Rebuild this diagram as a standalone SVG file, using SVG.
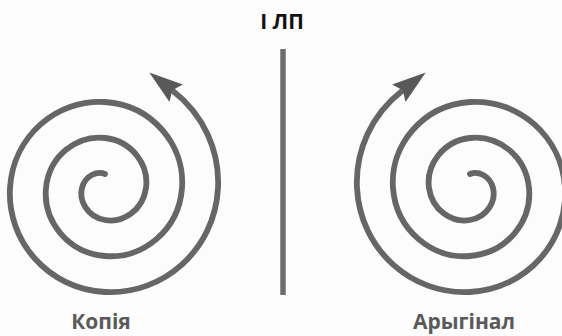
<svg xmlns="http://www.w3.org/2000/svg" xmlns:xlink="http://www.w3.org/1999/xlink" width="562" height="336" viewBox="0 0 562 336">
  <style>
    .spiral { fill: none; stroke: #666; stroke-width: 5.8; stroke-linecap: round; }
    .head { fill: #595959; }
    .label { font-family: "Open Sans", "Liberation Sans", sans-serif; font-weight: bold; font-size: 21px; fill: #5a5a5a; text-anchor: middle; }
    .title { font-family: "Open Sans", "Liberation Sans", sans-serif; font-weight: bold; font-size: 21px; fill: #111; text-anchor: middle; }
  </style>
  <defs>
    <g id="spiralShape">
      <path class="spiral" d="M105,174 C97.27,170.84 85.16,175.3 82,188 C78.84,200.7 87.33,216.84 105,220 C122.67,223.16 142.84,210.64 146,188 C149.16,165.36 132.62,141.16 105,138 C77.38,134.84 49.16,155.41 46,188 C42.84,220.59 67.44,252.84 105,256 C142.56,259.16 178.84,230.53 182,188 C185.16,145.47 152.5,105.16 105,102 C57.5,98.84 13.16,135.53 10,188 C6.84,240.47 47.56,288.84 105,292 C162.44,295.16 214.84,250.41 218,188 C219.87,151.13 203.61,114.62 173,91"/>
      <polygon class="head" points="149.3,72.5 182.9,84.6 172.2,90.2 169.5,102"/>
    </g>
  </defs>
  <rect width="562" height="336" fill="#fcfcfc"/>
  <g id="title">
    <text class="title" x="282" y="29">I ЛП</text>
  </g>
  <g id="divider">
    <line x1="283" y1="49" x2="283" y2="295" stroke="#6e6e6e" stroke-width="5.5"/>
  </g>
  <g id="copy">
    <use xlink:href="#spiralShape"/>
    <text class="label" x="101" y="329">Копія</text>
  </g>
  <g id="original">
    <use xlink:href="#spiralShape" transform="translate(575,0) scale(-1,1)"/>
    <text class="label" x="464" y="329">Арыгінал</text>
  </g>
</svg>
